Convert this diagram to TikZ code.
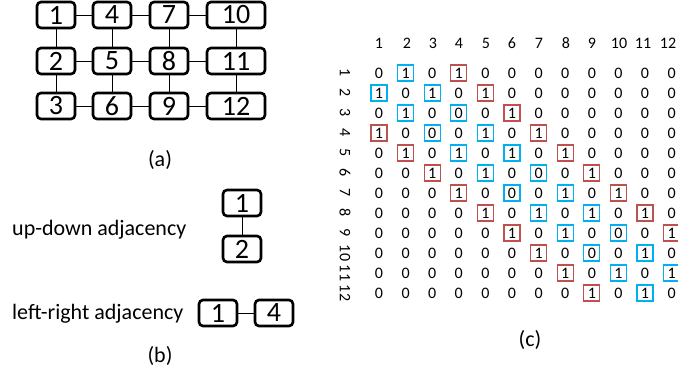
\documentclass[tikz,border=0pt]{standalone}
\usepackage{fontspec}
\setmainfont{Carlito}
\definecolor{blueC}{HTML}{00B0F0}
\definecolor{redC}{HTML}{C0504D}
\begin{document}
\begin{tikzpicture}[x=1pt,y=-1pt,
  gbox/.style={draw, line width=2.6pt, rounded corners=4pt, minimum width=38pt, minimum height=26pt, inner sep=0pt, font=\fontsize{28}{28}\selectfont},
  wbox/.style={gbox, minimum width=58pt},
  conn/.style={line width=1pt},
  lbl/.style={font=\fontsize{22}{22}\selectfont, inner sep=0pt},
  mnum/.style={font=\fontsize{16}{16}\selectfont, inner sep=0pt, minimum size=16pt},
  bb/.style={mnum, draw=blueC, line width=1.3pt},
  rb/.style={mnum, draw=redC, line width=1.3pt}]
\useasboundingbox (0,0) rectangle (678,376);
% (a) grid
\node[gbox] (n1) at (56,15) {1};
\node[gbox] (n2) at (56,61) {2};
\node[gbox] (n3) at (56,106) {3};
\node[gbox] (n4) at (112,15) {4};
\node[gbox] (n5) at (112,61) {5};
\node[gbox] (n6) at (112,106) {6};
\node[gbox] (n7) at (169,15) {7};
\node[gbox] (n8) at (169,61) {8};
\node[gbox] (n9) at (169,106) {9};
\node[wbox] (n10) at (236,15) {10};
\node[wbox] (n11) at (236,61) {11};
\node[wbox] (n12) at (236,106) {12};
\foreach \a/\b in {1/2,2/3,4/5,5/6,7/8,8/9,10/11,11/12,1/4,4/7,7/10,2/5,5/8,8/11,3/6,6/9,9/12}
  \draw[conn] (n\a) -- (n\b);
\node[lbl] (la) at (160,160) {(a)};
% (b)
\node[lbl, anchor=west] (ud) at (12,230) {up-down adjacency};
\node[gbox] (b1) at (242,203) {1};
\node[gbox] (b2) at (242,249) {2};
\draw[conn] (b1) -- (b2);
\node[lbl, anchor=west] (lr) at (12,314) {left-right adjacency};
\node[gbox] (c1) at (218,313) {1};
\node[gbox] (c4) at (274,313) {4};
\draw[conn] (c1) -- (c4);
\node[lbl] (lb) at (160,356) {(b)};
% (c) matrix
\foreach \j/\hx in {1/379,2/407,3/433,4/459,5/486,6/512,7/539,8/566,9/592,10/619,11/643,12/668}
  \node[mnum] (h\j) at (\hx,43) {\j};
\foreach \i in {1,...,12} {
  \node[mnum, rotate=-90] (r\i) at (345,{73+(\i-1)*20}) {\i};
  \foreach \j in {1,...,12} {
    \pgfmathtruncatemacro{\d}{abs(\i-\j)}
    \pgfmathtruncatemacro{\mn}{min(\i,\j)}
    \pgfmathtruncatemacro{\md}{mod(\mn,3)}
    \ifnum\d=3
      \node[rb] (m\i-\j) at ({379+(\j-1)*26.6},{73+(\i-1)*20}) {1};
    \else\ifnum\d=1
      \ifnum\md=0
        \node[bb] (m\i-\j) at ({379+(\j-1)*26.6},{73+(\i-1)*20}) {0};
      \else
        \node[bb] (m\i-\j) at ({379+(\j-1)*26.6},{73+(\i-1)*20}) {1};
      \fi
    \else
      \node[mnum] (m\i-\j) at ({379+(\j-1)*26.6},{73+(\i-1)*20}) {0};
    \fi\fi
  }
}
\node[lbl] (lc) at (530,340) {(c)};
\end{tikzpicture}
\end{document}
